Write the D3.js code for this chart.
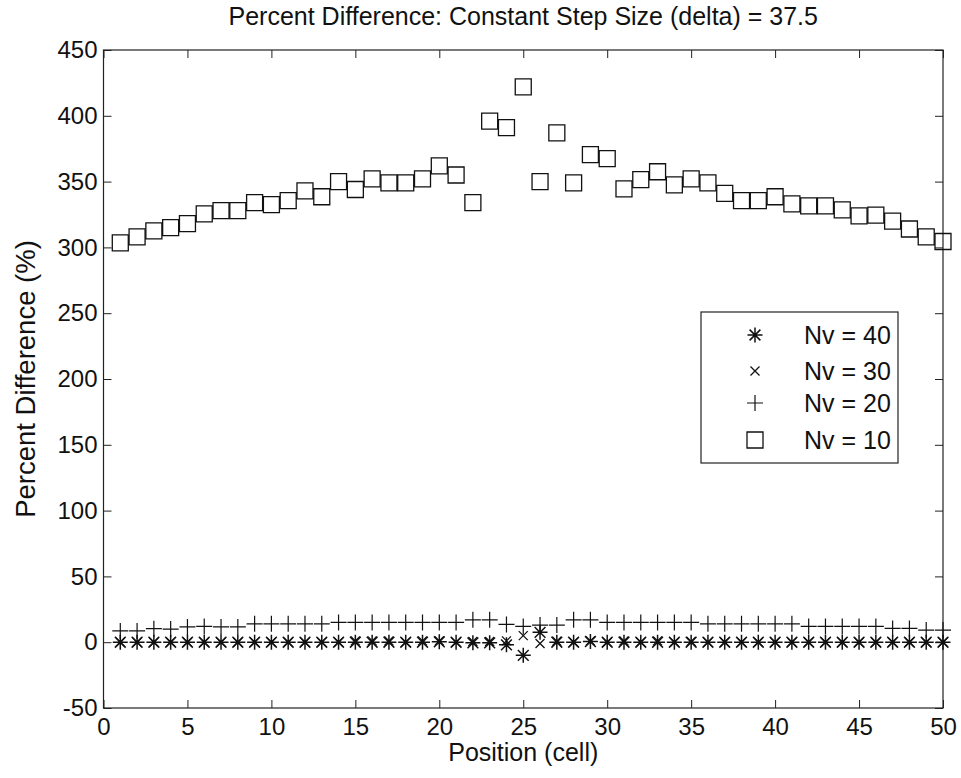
<!DOCTYPE html>
<html>
<head>
<meta charset="utf-8">
<script src="https://cdn.jsdelivr.net/npm/d3@7"></script>
<style>
  body { margin: 0; background: #fff; }
  text { font-family: "Liberation Sans", Arial, sans-serif; fill: #111; }
</style>
</head>
<body>
<svg id="chart"></svg>
<script>
// data
const positions = d3.range(1, 51);
const nv10 = [303.5, 308, 312.5, 315, 318, 325.5, 328, 328, 334, 332.5,
  335.5, 343, 338.5, 350, 344, 352, 349, 349, 352, 362,
  355, 334, 396, 391, 422, 350, 387, 349, 370.5, 367.5,
  344.5, 351.5, 357.5, 347.5, 352, 349, 341, 335.5, 335.5, 338.5,
  333, 331.5, 331.5, 328.5, 324, 324.5, 320, 314, 308, 304.5];
const nv20 = [8.6, 8.6, 10.3, 10, 11.6, 12, 11.6, 11.6, 14, 14,
  14, 14, 14, 15, 15, 15, 15, 15, 15, 15,
  15, 17, 17, 13.5, 12, 13, 13, 17, 17, 15,
  15, 15, 15, 15, 15, 14, 14, 14, 14, 14,
  14, 12, 12, 12, 12, 12, 10.5, 10.5, 9.2, 9.2];
const nv30 = [0, 0, 0, 0, 0, 0, 0, 0, 0, 0,
  0, 0, 0, 0, 1, 1, 1, 0, 1, 1,
  0, 0.5, 0.5, 1, 5, -1, 0.8, 0, 1, 0,
  1, 0, 1, 0, 0.5, 0, 0, 0, 0, 0,
  0, 0, 0, 0, 0, 0, 0, 0, 0, 0];
const nv40 = [0, 0, 0, 0, 0, 0, 0, 0, 0, 0,
  0, 0, 0, 0, 0, 0, 0, 0, 0, 0.3,
  0, -0.5, -0.5, -2, -10, 7.5, 0, 0, 0.5, 0,
  0, 0, 0, 0, 0, 0, 0, 0, 0, 0,
  0, 0, 0, 0, 0, 0, 0, 0, 0, 0];
const xTicks = d3.range(0, 51, 5);
const yTicks = d3.range(-50, 451, 50);
const legendLabels = ["Nv = 40", "Nv = 30", "Nv = 20", "Nv = 10"];

const W = 961, H = 778;
const margin = { top: 50, right: 18, bottom: 70, left: 103.5 },
      width = W - margin.left - margin.right,
      height = H - margin.top - margin.bottom;

const svg = d3.select("#chart").attr("width", W).attr("height", H);
const g = svg.append("g").attr("transform", `translate(${margin.left},${margin.top})`);

const x = d3.scaleLinear().domain([0, 50]).range([0, width]);
const y = d3.scaleLinear().domain([-50, 450]).range([height, 0]);

// marker shapes
const markers = {
  star: s => `M0,${-s}V${s}M${-s},0H${s}M${-s*0.72},${-s*0.72}L${s*0.72},${s*0.72}M${-s*0.72},${s*0.72}L${s*0.72},${-s*0.72}`,
  cross: s => `M${-s},${-s}L${s},${s}M${-s},${s}L${s},${-s}`,
  plus: s => `M0,${-s}V${s}M${-s},0H${s}`,
  square: s => `M${-s},${-s}H${s}V${s}H${-s}Z`
};

const series = [
  { values: nv40, shape: "star", size: 7.5, sw: 1.5 },
  { values: nv30, shape: "cross", size: 4.5, sw: 1.3 },
  { values: nv20, shape: "plus", size: 8, sw: 1.2 },
  { values: nv10, shape: "square", size: 8, sw: 1.3 }
];

// axes box with inward ticks
g.append("rect").attr("width", width).attr("height", height)
  .attr("fill", "none").attr("stroke", "#222").attr("stroke-width", 1.2);

const tl = 8;
const fmt = d => String(d);
g.append("g").attr("transform", `translate(0,${height})`)
  .call(d3.axisBottom(x).tickValues(xTicks).tickSize(-tl).tickPadding(10).tickFormat(fmt))
  .call(a => a.select(".domain").remove())
  .call(a => a.selectAll("text").style("font-size", "24px"));
g.append("g")
  .call(d3.axisTop(x).tickValues(xTicks).tickSize(-tl).tickFormat(""))
  .call(a => a.select(".domain").remove());
g.append("g")
  .call(d3.axisLeft(y).tickValues(yTicks).tickSize(-tl).tickPadding(6).tickFormat(fmt))
  .call(a => a.select(".domain").remove())
  .call(a => a.selectAll("text").style("font-size", "24px"));
g.append("g").attr("transform", `translate(${width},0)`)
  .call(d3.axisRight(y).tickValues(yTicks).tickSize(-tl).tickFormat(""))
  .call(a => a.select(".domain").remove());
g.selectAll(".tick line").attr("stroke", "#222");

// markers
series.forEach(s => {
  g.append("g").selectAll("path")
    .data(positions.map((p, i) => ({ p, v: s.values[i] })))
    .join("path")
    .attr("transform", d => `translate(${x(d.p)},${y(d.v)})`)
    .attr("d", markers[s.shape](s.size))
    .attr("fill", "none")
    .attr("stroke", "#111")
    .attr("stroke-width", s.sw);
});

// legend
const leg = g.append("g").attr("transform", `translate(${701 - margin.left},${312 - margin.top})`);
leg.append("rect").attr("width", 197).attr("height", 151)
  .attr("fill", "#fff").attr("stroke", "#222").attr("stroke-width", 1.2);
const rowY = [23, 59, 91, 128];
series.forEach((s, i) => {
  leg.append("path")
    .attr("transform", `translate(54,${rowY[i]})`)
    .attr("d", markers[s.shape](s.size))
    .attr("fill", "none").attr("stroke", "#111").attr("stroke-width", s.sw);
  leg.append("text").attr("x", 103).attr("y", rowY[i]).attr("dy", "0.36em")
    .style("font-size", "25px").text(legendLabels[i]);
});

// titles
svg.append("text").attr("x", margin.left + width / 2).attr("y", 25)
  .attr("text-anchor", "middle").style("font-size", "25px")
  .text("Percent Difference: Constant Step Size (delta) = 37.5");
svg.append("text").attr("x", margin.left + width / 2).attr("y", 761)
  .attr("text-anchor", "middle").style("font-size", "25px")
  .text("Position (cell)");
svg.append("text")
  .attr("transform", `translate(35,${margin.top + height / 2}) rotate(-90)`)
  .attr("text-anchor", "middle").style("font-size", "27.5px")
  .text("Percent Difference (%)");
</script>
</body>
</html>
